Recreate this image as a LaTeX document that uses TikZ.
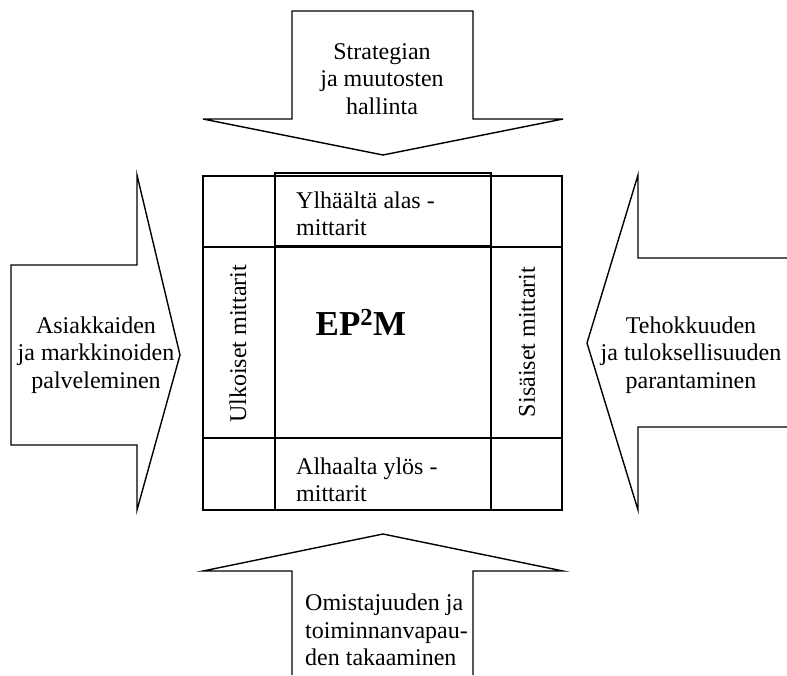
\documentclass[tikz,border=0pt]{standalone}
\usepackage{fontspec}
\setmainfont{Liberation Serif}
\begin{document}
\begin{tikzpicture}[x=1pt,y=-1pt,
  shape line/.style={draw=black,line width=1.4pt,line join=miter},
  lbl/.style={inner sep=0pt,font=\fontsize{24}{27.5}\selectfont},
  biglbl/.style={inner sep=0pt,font=\fontsize{35}{40}\selectfont\bfseries}]
\useasboundingbox (0,0) rectangle (787,675);
% arrows
\draw[shape line] (292,11) -- (473,11) -- (473,119) -- (563,119) -- (383,155) -- (203,119) -- (292,119) -- cycle;
\draw[shape line] (292,675) -- (292,571) -- (203,571) -- (383,534) -- (563,571) -- (473,571) -- (473,675);
\draw[shape line] (11,265) -- (137,265) -- (137,175) -- (180,355) -- (137,510) -- (137,445) -- (11,445) -- cycle;
\draw[shape line] (787,258) -- (638,258) -- (638,175) -- (587,343) -- (638,510) -- (638,427) -- (787,427);
% central grid
\draw[shape line] (203,176) rectangle (562,510);
\draw[shape line] (203,247) -- (275,247);
\draw[shape line] (491,247) -- (562,247);
\draw[shape line] (275,247) -- (491,247);
\draw[shape line] (203,438) -- (562,438);
\draw[shape line] (275,247) -- (275,510);
\draw[shape line] (491,247) -- (491,510);
\draw[shape line] (275,173) rectangle (491,246);
% texts
\node[lbl,align=center] (top) at (382,79) {Strategian\\ja muutosten\\hallinta};
\node[lbl,align=center] (left) at (96,355) {Asiakkaiden\\ja markkinoiden\\palveleminen};
\node[lbl,align=center] (right) at (691,355) {Tehokkuuden\\ja tuloksellisuuden\\parantaminen};
\node[lbl,align=left,anchor=west] (bottom) at (305,630) {Omistajuuden ja\\toiminnanvapau-\\den takaaminen};
\node[lbl,align=left,anchor=west] (tcell) at (296,214) {Ylhäältä alas -\\mittarit};
\node[lbl,align=left,anchor=west] (bcell) at (296,480) {Alhaalta ylös -\\mittarit};
\node[lbl,rotate=90] (lcell) at (238,344) {Ulkoiset mittarit};
\node[lbl,rotate=90] (rcell) at (527,342) {Sisäiset mittarit};
\node[biglbl,anchor=base] (ep) at (361,335) {EP\textsuperscript{2}M};
\end{tikzpicture}
\end{document}
